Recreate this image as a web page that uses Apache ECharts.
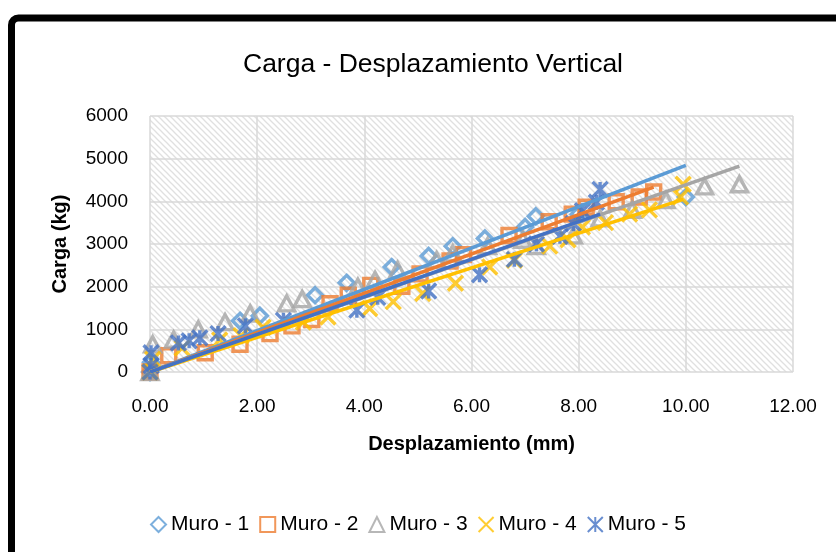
<!DOCTYPE html>
<html>
<head>
<meta charset="utf-8">
<script src="https://cdn.jsdelivr.net/npm/echarts@6/dist/echarts.min.js"></script>
<style>
  html, body { margin: 0; padding: 0; background: #fff; }
  #chart { width: 836px; height: 552px; }
</style>
</head>
<body>
<div id="chart"></div>
<script>
// datos: [desplazamiento (mm), carga (kg)]
const muroNames = ['Muro - 1', 'Muro - 2', 'Muro - 3', 'Muro - 4', 'Muro - 5'];
const muroColors = ['#5B9BD5', '#ED7D31', '#A5A5A5', '#FFC000', '#4472C4'];
const xTicks = [0, 2, 4, 6, 8, 10, 12];
const yTicks = [0, 1000, 2000, 3000, 4000, 5000, 6000];

const muro1 = [[0, 0], [0.02, 230], [1.68, 1200], [2.05, 1320], [3.08, 1800], [3.67, 2090],
  [4.51, 2460], [5.2, 2720], [5.65, 2950], [6.25, 3130], [7.0, 3400], [7.2, 3650],
  [8.0, 3700], [10.0, 4100]];
const muro2 = [[0, 0], [0.35, 380], [1.03, 450], [1.68, 650], [2.24, 900], [2.65, 1080],
  [3.02, 1230], [3.36, 1600], [3.7, 1800], [4.12, 2030], [4.7, 2010], [5.04, 2300],
  [5.6, 2600], [5.85, 2750], [6.7, 3200], [7.45, 3520], [7.88, 3700], [8.14, 3860],
  [8.7, 3990], [9.13, 4100], [9.4, 4220]];
const muro3 = [[0, 0], [0.05, 650], [0.44, 760], [0.9, 1000], [1.4, 1170], [1.87, 1370],
  [2.55, 1610], [2.84, 1710], [3.88, 2000], [4.2, 2160], [4.62, 2390], [5.35, 2620],
  [5.65, 2780], [6.3, 2950], [6.96, 3100], [7.21, 2950], [7.9, 3200], [8.4, 3600],
  [9.0, 3800], [9.63, 4030], [10.35, 4350], [11.0, 4400]];
const muro4 = [[0, 0], [0.05, 300], [0.6, 560], [1.3, 750], [1.7, 850], [2.11, 1050],
  [2.86, 1170], [3.32, 1290], [4.1, 1490], [4.54, 1650], [5.09, 1840], [5.7, 2080],
  [6.34, 2460], [6.8, 2620], [7.46, 2950], [7.8, 3100], [8.07, 3400], [8.5, 3500],
  [8.95, 3700], [9.32, 3800], [9.9, 4100], [9.95, 4400]];
const muro5 = [[0, 0], [0.02, 150], [0.02, 450], [0.53, 680], [0.73, 730], [0.93, 800],
  [1.27, 900], [1.78, 1080], [2.49, 1210], [3.86, 1450], [4.25, 1750], [5.2, 1900],
  [6.15, 2280], [6.8, 2640], [7.21, 3000], [7.65, 3180], [7.9, 3480], [8.07, 3780],
  [8.33, 3980], [8.4, 4280]];

const muroData = [muro1, muro2, muro3, muro4, muro5];
const muroSymbols = [
  'diamond',
  'rect',
  'triangle',
  'path://M0,0L10,10M10,0L0,10',
  'path://M0,0L10,10M10,0L0,10M5,0L5,10'
];

// linea de tendencia lineal (interseccion en 0)
function trend(data) {
  let sxy = 0, sxx = 0, xmax = 0;
  data.forEach(p => { sxy += p[0] * p[1]; sxx += p[0] * p[0]; xmax = Math.max(xmax, p[0]); });
  const m = sxy / sxx;
  return [[0, 0], [xmax, m * xmax]];
}

// trama diagonal del area de trazado
function hatch() {
  const c = document.createElement('canvas');
  c.width = 6; c.height = 6;
  const g = c.getContext('2d');
  g.fillStyle = '#fff';
  g.fillRect(0, 0, 6, 6);
  g.strokeStyle = '#e0e0e0';
  g.lineWidth = 1.3;
  [-6, 0, 6].forEach(o => {
    g.beginPath(); g.moveTo(o - 1, -1); g.lineTo(o + 7, 7); g.stroke();
  });
  return c;
}

const chart = echarts.init(document.getElementById('chart'));
const font = 'Liberation Sans, Arial, sans-serif';

const series = [];
muroNames.forEach((name, i) => {
  series.push({
    name: name,
    type: 'scatter',
    symbol: muroSymbols[i],
    symbolSize: i === 2 ? [16, 15] : (i === 1 ? 14 : 15),
    itemStyle: { color: 'rgba(0,0,0,0)', borderColor: muroColors[i], borderWidth: 3.4 },
    data: muroData[i],
    z: 2
  });
});
muroNames.forEach((name, i) => {
  series.push({
    name: 'Lineal (' + name + ')',
    type: 'line',
    showSymbol: false,
    silent: true,
    lineStyle: { color: muroColors[i], width: 3.5 },
    data: trend(muroData[i]),
    z: 3
  });
});

chart.setOption({
  animation: false,
  backgroundColor: '#fff',
  title: {
    text: 'Carga - Desplazamiento Vertical',
    left: 428,
    textAlign: 'center',
    top: 46,
    textStyle: { fontFamily: font, fontSize: 26.5, fontWeight: 'normal', color: '#000' }
  },
  graphic: [{
    type: 'rect',
    shape: { x: 11.5, y: 18, width: 1000, height: 1000, r: 7 },
    style: { fill: 'none', stroke: '#000', lineWidth: 7 },
    silent: true
  }],
  legend: {
    data: muroNames,
    bottom: 12,
    left: 'center',
    itemWidth: 15,
    itemHeight: 15,
    itemGap: 10,
    textStyle: { fontFamily: font, fontSize: 21, color: '#000' }
  },
  grid: {
    left: 150,
    top: 116,
    width: 643,
    height: 256,
    show: true,
    backgroundColor: { image: hatch(), repeat: 'repeat' },
    borderWidth: 0
  },
  xAxis: {
    type: 'value',
    min: xTicks[0],
    max: xTicks[xTicks.length - 1],
    interval: xTicks[1] - xTicks[0],
    name: 'Desplazamiento (mm)',
    nameLocation: 'middle',
    nameGap: 62,
    nameTextStyle: { fontFamily: font, fontSize: 20, fontWeight: 'bold', color: '#000' },
    axisLine: { show: false },
    axisTick: { show: false },
    axisLabel: { fontFamily: font, fontSize: 19, color: '#000', margin: 25, formatter: v => v.toFixed(2) },
    splitLine: { lineStyle: { color: '#d9d9d9', width: 1.5 } }
  },
  yAxis: {
    type: 'value',
    min: yTicks[0],
    max: yTicks[yTicks.length - 1],
    interval: yTicks[1] - yTicks[0],
    name: 'Carga (kg)',
    nameLocation: 'middle',
    nameGap: 80,
    nameTextStyle: { fontFamily: font, fontSize: 20, fontWeight: 'bold', color: '#000' },
    axisLine: { show: false },
    axisTick: { show: false },
    axisLabel: { fontFamily: font, fontSize: 19, color: '#000', margin: 22, formatter: v => String(v) },
    splitLine: { lineStyle: { color: '#d9d9d9', width: 1.5 } }
  },
  series: series
});
</script>
</body>
</html>
